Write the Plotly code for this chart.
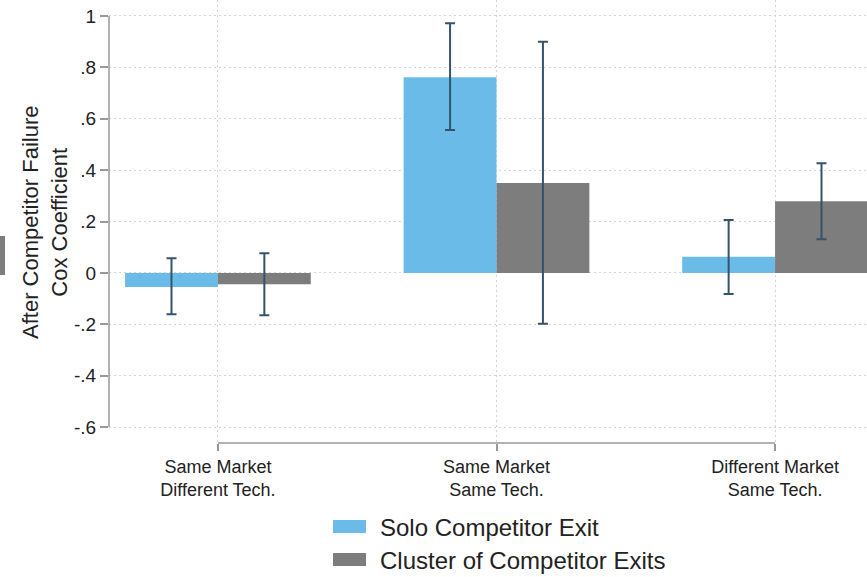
import plotly.graph_objects as go

# ---- data ----
categories = ["Same Market<br>Different Tech.", "Same Market<br>Same Tech.", "Different Market<br>Same Tech."]
series_names = ["Solo Competitor Exit", "Cluster of Competitor Exits"]
solo = [-0.055, 0.761, 0.063]
solo_lo = [-0.161, 0.556, -0.082]
solo_hi = [0.057, 0.972, 0.206]
cluster = [-0.044, 0.350, 0.279]
cluster_lo = [-0.165, -0.198, 0.131]
cluster_hi = [0.076, 0.900, 0.427]
y_tickvals = [-0.6, -0.4, -0.2, 0, 0.2, 0.4, 0.6, 0.8, 1]
y_ticktext = ["-.6", "-.4", "-.2", "0", ".2", ".4", ".6", ".8", "1"]

BLUE = "#6bbbe8"
GRAY = "#7d7d7d"
ERR = "#35536d"
AXIS = "#999999"
TXT = "#222222"
GRID = "#d4d4d4"
FONT = "Arial, Liberation Sans, sans-serif"

W, H = 867, 577
L, R, T, B = 109, 0, 0, 134
PW, PH = W - L - R, H - T - B


def px(x):  # window pixel -> paper x
    return (x - L) / PW


def py(y):  # window pixel -> paper y
    return (H - B - y) / PH


xs = list(range(len(categories)))

fig = go.Figure()
for name, vals, lo, hi, col in [
    (series_names[0], solo, solo_lo, solo_hi, BLUE),
    (series_names[1], cluster, cluster_lo, cluster_hi, GRAY),
]:
    fig.add_trace(go.Bar(
        x=xs, y=vals, name=name,
        marker=dict(color=col, line=dict(width=0)),
        error_y=dict(type="data", symmetric=False,
                     array=[h - v for h, v in zip(hi, vals)],
                     arrayminus=[v - l for v, l in zip(vals, lo)],
                     color=ERR, thickness=2, width=5),
        showlegend=False,
    ))

fig.update_layout(
    width=W, height=H,
    margin=dict(l=L, r=R, t=T, b=B, pad=0),
    paper_bgcolor="white", plot_bgcolor="white",
    barmode="group", bargap=1/3, bargroupgap=0,
    font=dict(family=FONT, color=TXT),
)
fig.update_xaxes(
    range=[-0.391, 2.330], tickvals=xs, ticktext=categories,
    showline=False, zeroline=False,
    showgrid=True, gridcolor=GRID, griddash="2px,3px", gridwidth=1,
    ticks="outside", ticklen=7, tickcolor=AXIS, tickwidth=1.5,
    tickfont=dict(size=18, color=TXT, family=FONT),
)
fig.update_yaxes(
    range=[-0.662, 1.062], tickvals=y_tickvals, ticktext=y_ticktext,
    showline=False, zeroline=False,
    showgrid=True, gridcolor=GRID, griddash="2px,3px", gridwidth=1,
    ticks="outside", ticklen=8, tickcolor=AXIS, tickwidth=1.5,
    ticklabeloverflow="allow",
    tickfont=dict(size=19, color=TXT, family=FONT),
)

# axis lines spanning tick range (Stata style)
fig.add_shape(type="line", xref="paper", yref="y", x0=0, x1=0,
              y0=y_tickvals[0], y1=y_tickvals[-1], line=dict(color=AXIS, width=1.5))
fig.add_shape(type="line", xref="x", yref="paper", x0=xs[0], x1=xs[-1],
              y0=0, y1=0, line=dict(color=AXIS, width=1.5))

# y-axis title
fig.add_annotation(text="After Competitor Failure<br>Cox Coefficient", textangle=-90,
                   xref="paper", yref="paper", x=px(45), y=py(222),
                   xanchor="center", yanchor="middle", showarrow=False,
                   font=dict(size=22, color=TXT, family=FONT))

# custom legend
rows = [(520, 533, 527, BLUE), (553, 566, 560, GRAY)]
for name, (y0, y1, yc, col) in zip(series_names, rows):
    fig.add_shape(type="rect", xref="paper", yref="paper",
                  x0=px(333), x1=px(366), y0=py(y0), y1=py(y1),
                  fillcolor=col, line=dict(width=0))
    fig.add_annotation(text=name, xref="paper", yref="paper",
                       x=px(378), y=py(yc), xanchor="left", yanchor="middle",
                       showarrow=False, font=dict(size=24, color=TXT, family=FONT))

# fragment of neighbouring panel at the left edge
fig.add_shape(type="rect", xref="paper", yref="paper",
              x0=px(0), x1=px(5), y0=py(236), y1=py(275),
              fillcolor="#7d7d7d", line=dict(width=0))

fig.write_html(
    "out.html",
    config={"displayModeBar": False},
    post_script="document.body.style.margin='0';document.documentElement.style.overflow='hidden';",
)
